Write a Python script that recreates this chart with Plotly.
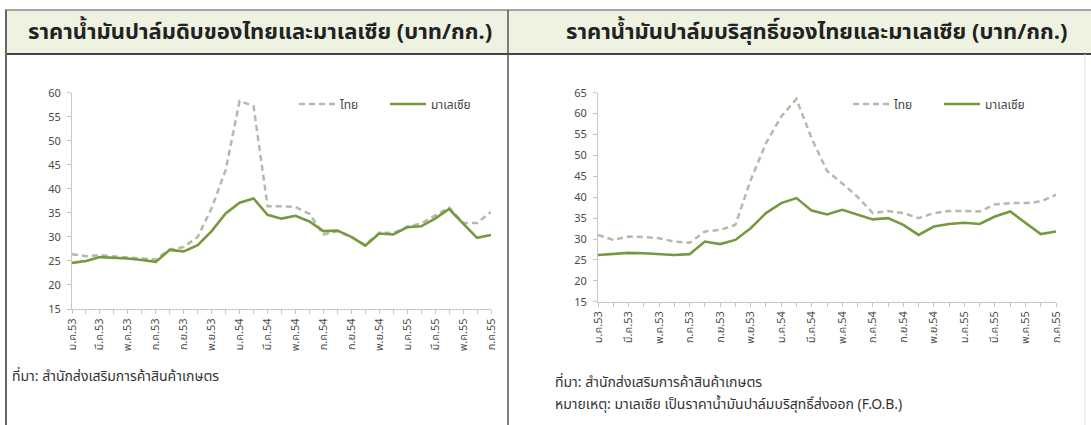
import plotly.graph_objects as go

W, H = 1091, 425

months = ["ม.ค.53", "ก.พ.53", "มี.ค.53", "เม.ย.53", "พ.ค.53", "มิ.ย.53", "ก.ค.53", "ส.ค.53",
          "ก.ย.53", "ต.ค.53", "พ.ย.53", "ธ.ค.53", "ม.ค.54", "ก.พ.54", "มี.ค.54", "เม.ย.54",
          "พ.ค.54", "มิ.ย.54", "ก.ค.54", "ส.ค.54", "ก.ย.54", "ต.ค.54", "พ.ย.54", "ธ.ค.54",
          "ม.ค.55", "ก.พ.55", "มี.ค.55", "เม.ย.55", "พ.ค.55", "มิ.ย.55", "ก.ค.55"]

crude_thai = [26.4, 26.0, 26.2, 25.9, 25.7, 25.5, 25.3, 27.4, 27.9, 30.0, 36.0, 43.9, 58.3, 57.2,
              36.4, 36.4, 36.2, 34.8, 30.5, 31.2, 30.0, 28.3, 30.9, 30.8, 32.1, 32.8, 34.5, 36.1,
              32.9, 32.9, 35.2]
crude_malaysia = [24.6, 25.0, 25.8, 25.7, 25.5, 25.2, 24.8, 27.3, 27.0, 28.3, 31.2, 34.9, 37.1, 38.0,
                  34.6, 33.8, 34.4, 33.2, 31.2, 31.3, 30.0, 28.2, 30.7, 30.5, 32.0, 32.2, 33.8, 35.8,
                  32.7, 29.8, 30.4]
refined_thai = [31.0, 29.8, 30.6, 30.5, 30.2, 29.4, 29.1, 31.8, 32.2, 33.4, 44.1, 52.9, 59.3, 63.5,
                54.0, 46.3, 43.3, 40.1, 36.2, 36.7, 36.2, 35.0, 36.2, 36.7, 36.7, 36.6, 38.3, 38.6,
                38.6, 39.0, 40.6]
refined_malaysia = [26.2, 26.4, 26.7, 26.6, 26.4, 26.2, 26.4, 29.4, 28.8, 29.8, 32.6, 36.2, 38.6, 39.8,
                    36.8, 35.9, 37.0, 35.8, 34.7, 35.0, 33.4, 31.0, 33.0, 33.6, 33.9, 33.6, 35.4, 36.6,
                    33.8, 31.2, 31.8]

series_names = ["ไทย", "มาเลเซีย"]
titles = ["ราคาน้ำมันปาล์มดิบของไทยและมาเลเซีย (บาท/กก.)",
          "ราคาน้ำมันปาล์มบริสุทธิ์ของไทยและมาเลเซีย (บาท/กก.)"]
source_text = "ที่มา: สำนักส่งเสริมการค้าสินค้าเกษตร"
note_text = "หมายเหตุ: มาเลเซีย เป็นราคาน้ำมันปาล์มบริสุทธิ์ส่งออก (F.O.B.)"

FONT = "Tahoma, Noto Sans Thai, Noto Sans, sans-serif"
THAI_COLOR = "#b4baa8"
MY_COLOR = "#76983e"

x = list(range(len(months)))

def px(v):
    return v / W

def py(v):
    return (H - v) / H

fig = go.Figure()

for xa, ya, leg, thai, my in [("x", "y", "legend", crude_thai, crude_malaysia),
                               ("x2", "y2", "legend2", refined_thai, refined_malaysia)]:
    fig.add_trace(go.Scatter(x=x, y=thai, mode="lines", name=series_names[0],
                             line=dict(color=THAI_COLOR, width=2.5, dash="6px,4px"),
                             xaxis=xa, yaxis=ya, legend=leg))
    fig.add_trace(go.Scatter(x=x, y=my, mode="lines", name=series_names[1],
                             line=dict(color=MY_COLOR, width=2.6),
                             xaxis=xa, yaxis=ya, legend=leg))

axis_common = dict(showgrid=False, zeroline=False, showline=True, linecolor="#c6c6c6", linewidth=1,
                   ticks="outside", ticklen=4, tickcolor="#c6c6c6", automargin=False,
                   tickfont=dict(family=FONT, size=11, color="#4a4a4a"))

xcommon = dict(axis_common, tickmode="array", tickvals=x[::2], ticktext=months[::2], tickangle=-90,
               minor=dict(tickmode="linear", tick0=0, dtick=1, ticks="outside", ticklen=4,
                          tickcolor="#c6c6c6"),
               range=[0, len(months) - 1])

legend_common = dict(orientation="h", xanchor="left", yanchor="middle", bgcolor="rgba(0,0,0,0)",
                     font=dict(family=FONT, size=12, color="#444444"), itemwidth=36,
                     entrywidthmode="pixels")

fig.update_layout(
    width=W, height=H, margin=dict(l=0, r=0, t=0, b=0, autoexpand=False),
    paper_bgcolor="white", plot_bgcolor="white",
    font=dict(family=FONT),
    xaxis=dict(xcommon, domain=[px(72), px(491)], anchor="y"),
    yaxis=dict(axis_common, domain=[py(309), py(92.7)], range=[15, 60], dtick=5, anchor="x",
               ticklabelstandoff=4),
    xaxis2=dict(xcommon, domain=[px(598), px(1056)], anchor="y2"),
    yaxis2=dict(axis_common, domain=[py(301.8), py(92.7)], range=[15, 65], dtick=5, anchor="x2",
                ticklabelstandoff=4),
    legend=dict(legend_common, x=px(294), y=py(104), entrywidth=40),
    legend2=dict(legend_common, x=px(848), y=py(104), entrywidth=40),
)

shapes = [
    dict(type="rect", xref="paper", yref="paper", x0=px(6), x1=1, y0=py(54), y1=py(10),
         fillcolor="#eef2e1", line=dict(width=0), layer="below"),
    dict(type="line", xref="paper", yref="paper", x0=px(5), x1=1, y0=py(10), y1=py(10),
         line=dict(color="#8a8a8a", width=1.5)),
    dict(type="line", xref="paper", yref="paper", x0=px(5), x1=1, y0=py(54), y1=py(54),
         line=dict(color="#444444", width=2)),
    dict(type="line", xref="paper", yref="paper", x0=px(6), x1=px(6), y0=0, y1=py(10),
         line=dict(color="#666666", width=2)),
    dict(type="line", xref="paper", yref="paper", x0=px(508), x1=px(508), y0=0, y1=py(10),
         line=dict(color="#555555", width=1.5)),
    dict(type="line", xref="paper", yref="paper", x0=px(1085), x1=px(1085), y0=0, y1=py(54),
         line=dict(color="#e2e2e2", width=1)),
]

annotations = [
    dict(text="<b>" + titles[0] + "</b>", x=px(260), y=py(32), xref="paper", yref="paper",
         showarrow=False, xanchor="center", yanchor="middle",
         font=dict(family=FONT, size=22, color="#222222")),
    dict(text="<b>" + titles[1] + "</b>", x=px(816), y=py(32), xref="paper", yref="paper",
         showarrow=False, xanchor="center", yanchor="middle",
         font=dict(family=FONT, size=22, color="#222222")),
    dict(text=source_text, x=px(10), y=py(376), xref="paper", yref="paper", showarrow=False,
         xanchor="left", yanchor="middle", font=dict(family=FONT, size=14, color="#333333")),
    dict(text=source_text, x=px(553), y=py(382), xref="paper", yref="paper", showarrow=False,
         xanchor="left", yanchor="middle", font=dict(family=FONT, size=14, color="#333333")),
    dict(text=note_text, x=px(553), y=py(404), xref="paper", yref="paper", showarrow=False,
         xanchor="left", yanchor="middle", font=dict(family=FONT, size=14, color="#333333")),
]

fig.update_layout(shapes=shapes, annotations=annotations)

fig.write_html("out.html", config={"displayModeBar": False},
               post_script="document.body.style.margin='0';document.body.style.overflow='hidden';")
